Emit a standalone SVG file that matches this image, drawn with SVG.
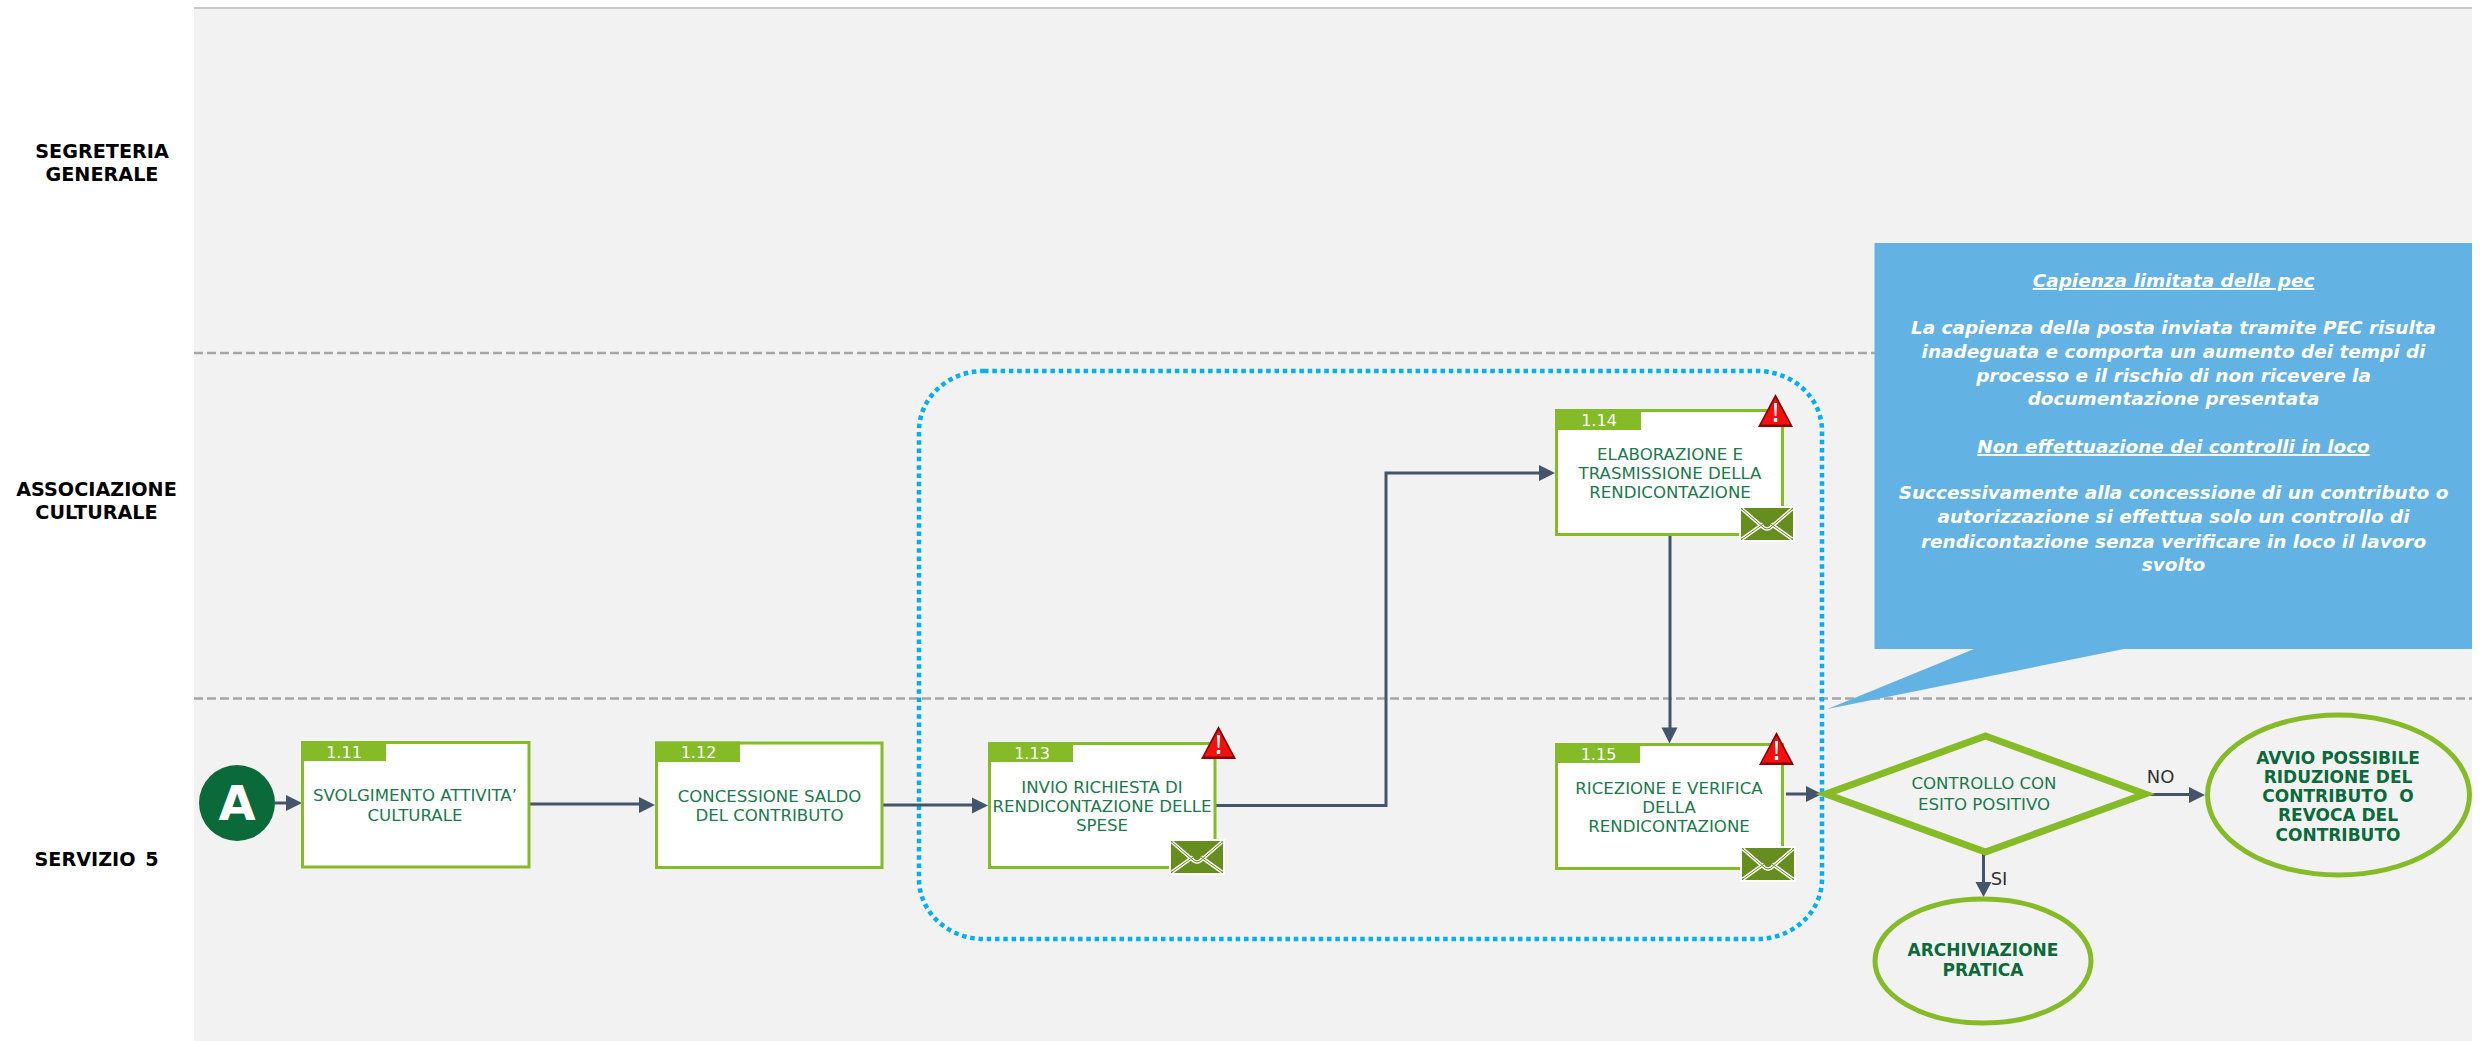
<svg xmlns="http://www.w3.org/2000/svg" width="2488" height="1041" viewBox="0 0 2488 1041">
<style>
text{font-family:"DejaVu Sans","Verdana",sans-serif;text-anchor:middle}
.lane{font-weight:bold;font-size:19.2px;fill:#000}
.t{font-size:16.6px;fill:#1a7a4c}
.b{font-size:17px;font-weight:bold;fill:#0a6a3a}
.h{font-size:16px;fill:#fff}
.c{font-size:18.45px;font-style:italic;font-weight:bold;fill:#fff}
.box{fill:#fff;stroke:#84bb26;stroke-width:3}
.hd{fill:#84bb26}
.ln{fill:none;stroke:#44546a;stroke-width:3}
.dash{fill:none;stroke:#a6a6a6;stroke-width:2.5;stroke-dasharray:9 4}
.oval{fill:#f2f2f2;stroke:#84bb26;stroke-width:5}
</style>
<defs>
<g id="warn"><path d="M17.500 0 35 33 0 33Z" fill="#8b0000"/><path d="M17.500 4 32 30.500 3 30.500Z" fill="#f51010"/><path d="M16 9h3l-.7 13h-1.600zM15.800 24h3.400v4h-3.400z" fill="#fff"/></g>
<g id="mail"><rect width="56" height="36" fill="#fff"/><rect x="2" y="2" width="52" height="32" fill="#668e1e"/><path d="M3 3 25 22Q28 24 31 22L53 3M3 33 24 18M53 33 32 18" fill="none" stroke="#fff" stroke-width="3.600"/><path d="M3 3 25 22Q28 24 31 22L53 3M3 33 24 18M53 33 32 18" fill="none" stroke="#668e1e" stroke-width="1"/></g>
<path id="ah" d="M0 0-16-8v16z" fill="#44546a"/>
</defs>
<rect x="0" y="0" width="2488" height="1041" fill="#fff"/>
<g id="lanes">
<rect x="194" y="8" width="2278" height="1033" fill="#f2f2f2"/>
<path d="M194 8H2472" stroke="#c8c8c8" stroke-width="2"/>
<path class="dash" d="M194 353H2472M194 698.500H2472"/>
<text class="lane" x="102" y="157.500">SEGRETERIA</text>
<text class="lane" x="102" y="181">GENERALE</text>
<text class="lane" x="96.500" y="495.500">ASSOCIAZIONE</text>
<text class="lane" x="96.500" y="519">CULTURALE</text>
<text class="lane" x="96.500" y="866" style="word-spacing:3px">SERVIZIO 5</text>
</g>
<g id="group-box"><rect x="919" y="371" width="903" height="568" rx="65" ry="60" fill="none" stroke="#00b0f0" stroke-width="4.500" stroke-dasharray="4.500 3.800"/></g>
<g id="connectors">
<path class="ln" d="M275 803H290"/><use href="#ah" x="302" y="803"/>
<path class="ln" d="M530 804H642"/><use href="#ah" x="655" y="805"/>
<path class="ln" d="M883 805H975"/><use href="#ah" x="988" y="805.500"/>
<path class="ln" d="M1216 805.500H1386V473H1542"/><use href="#ah" x="1555" y="473"/>
<path class="ln" d="M1670 536V730"/><path d="M1669.500 743.500l-8-16h16z" fill="#44546a"/>
<path class="ln" d="M1786 794H1808"/><use href="#ah" x="1822" y="794"/>
<path class="ln" d="M2146 794.500H2192"/><use href="#ah" x="2205" y="795"/>
<path class="ln" d="M1983.500 854V885"/><path d="M1983.500 897l-8-15h16z" fill="#44546a"/>
<text x="2160.500" y="783" style="font-size:18px;fill:#333">NO</text>
<text x="1999" y="885" style="font-size:18px;fill:#333">SI</text>
</g>
<g id="start"><circle cx="237" cy="803" r="38" fill="#0a6a3a"/><text x="237" y="820" style="font-size:48px;font-weight:bold;fill:#fff">A</text></g>
<g id="n111"><rect class="box" x="302.500" y="742.500" width="226.500" height="124.500"/><rect class="hd" x="301" y="741" width="85" height="20"/><text class="h" x="344" y="758">1.11</text><text class="t" x="415" y="801">SVOLGIMENTO ATTIVITA’</text><text class="t" x="415" y="821">CULTURALE</text></g>
<g id="n112"><rect class="box" x="656.500" y="743" width="225.500" height="124.500"/><rect class="hd" x="655" y="741.500" width="85" height="20.500"/><text class="h" x="698.500" y="758">1.12</text><text class="t" x="769.500" y="802">CONCESSIONE SALDO</text><text class="t" x="769.500" y="821">DEL CONTRIBUTO</text></g>
<g id="n113"><rect class="box" x="989.500" y="743.500" width="225.500" height="124"/><rect class="hd" x="988" y="742" width="85" height="20"/><text class="h" x="1032" y="759">1.13</text><text class="t" x="1102" y="793">INVIO RICHIESTA DI</text><text class="t" x="1102" y="812">RENDICONTAZIONE DELLE</text><text class="t" x="1102" y="831">SPESE</text><use href="#warn" x="1201" y="726"/><use href="#mail" x="1169" y="839"/></g>
<g id="n114"><rect class="box" x="1556.500" y="410.500" width="226" height="124"/><rect class="hd" x="1555" y="409" width="86" height="21"/><text class="h" x="1599" y="426">1.14</text><text class="t" x="1670" y="460">ELABORAZIONE E</text><text class="t" x="1670" y="479">TRASMISSIONE DELLA</text><text class="t" x="1670" y="498">RENDICONTAZIONE</text><use href="#warn" x="1758" y="394"/><use href="#mail" x="1739" y="506"/></g>
<g id="n115"><rect class="box" x="1556.500" y="744.500" width="226" height="124"/><rect class="hd" x="1555" y="743" width="85" height="20"/><text class="h" x="1598.500" y="760">1.15</text><text class="t" x="1669" y="794">RICEZIONE E VERIFICA</text><text class="t" x="1669" y="813">DELLA</text><text class="t" x="1669" y="832">RENDICONTAZIONE</text><use href="#warn" x="1759" y="732"/><use href="#mail" x="1740" y="846"/></g>
<g id="decision"><path d="M1985.500 736 2145 794 1985.500 852 1826 794Z" fill="#f2f2f2" stroke="#84bb26" stroke-width="7"/><text class="t" x="1984" y="789">CONTROLLO CON</text><text class="t" x="1984" y="810">ESITO POSITIVO</text></g>
<g id="end-ok"><ellipse class="oval" cx="1983" cy="961" rx="108" ry="62"/><text class="b" x="1983" y="956">ARCHIVIAZIONE</text><text class="b" x="1983" y="976">PRATICA</text></g>
<g id="end-no"><ellipse class="oval" cx="2338.500" cy="795" rx="131" ry="80"/><text class="b" x="2338" y="764">AVVIO POSSIBILE</text><text class="b" x="2338" y="783">RIDUZIONE DEL</text><text class="b" x="2338" y="802">CONTRIBUTO&#160; O</text><text class="b" x="2338" y="821">REVOCA DEL</text><text class="b" x="2338" y="841">CONTRIBUTO</text></g>
<g id="callout"><path d="M1874.500 243H2472V649H2124L1827.500 709 1974 649H1874.500Z" fill="#63b2e4"/>
<text class="c" x="2173.500" y="287" text-decoration="underline">Capienza limitata della pec</text>
<text class="c" x="2173.500" y="334">La capienza della posta inviata tramite PEC risulta</text>
<text class="c" x="2173.500" y="358">inadeguata e comporta un aumento dei tempi di</text>
<text class="c" x="2173.500" y="382">processo e il rischio di non ricevere la</text>
<text class="c" x="2173.500" y="405">documentazione presentata</text>
<text class="c" x="2173.500" y="453" text-decoration="underline">Non effettuazione dei controlli in loco</text>
<text class="c" x="2173.500" y="499">Successivamente alla concessione di un contributo o</text>
<text class="c" x="2173.500" y="523">autorizzazione si effettua solo un controllo di</text>
<text class="c" x="2173.500" y="548">rendicontazione senza verificare in loco il lavoro</text>
<text class="c" x="2173.500" y="571">svolto</text>
</g>
</svg>
